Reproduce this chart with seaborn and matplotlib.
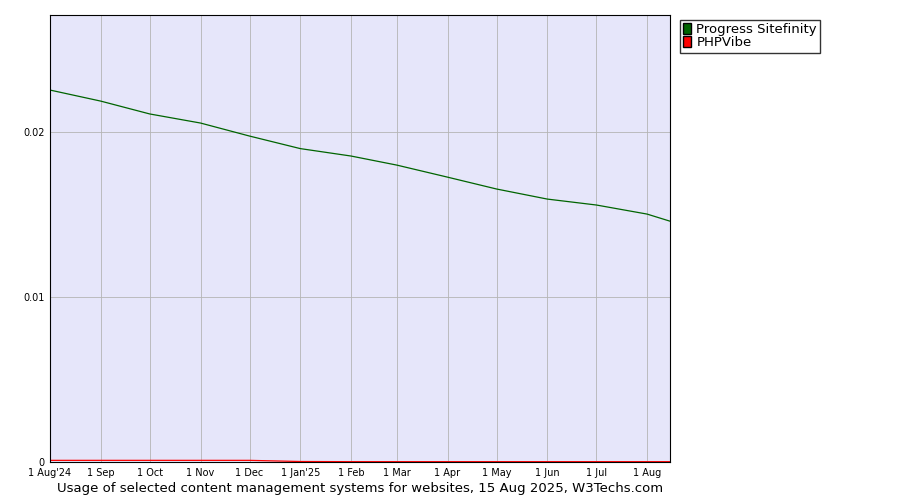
import pandas as pd
import matplotlib
matplotlib.use("Agg")
import matplotlib.pyplot as plt
from matplotlib.patches import Patch
import seaborn as sns

dates = ["2024-08-01", "2024-09-01", "2024-10-01", "2024-11-01", "2024-12-01",
         "2025-01-01", "2025-02-01", "2025-03-01", "2025-04-01", "2025-05-01",
         "2025-06-01", "2025-07-01", "2025-08-01", "2025-08-15"]
sitefinity = [0.02255, 0.02188, 0.0211, 0.02055, 0.01976, 0.0190, 0.01855,
              0.0180, 0.01727, 0.01655, 0.01594, 0.01558, 0.01503, 0.0146]
phpvibe = [0.0001, 0.0001, 0.0001, 0.0001, 0.0001, 0.00003, 0.00002,
           0.00002, 0.00002, 0.00002, 0.00002, 0.00002, 0.00002, 0.00002]
tick_labels = ["1 Aug'24", "1 Sep", "1 Oct", "1 Nov", "1 Dec", "1 Jan'25", "1 Feb",
               "1 Mar", "1 Apr", "1 May", "1 Jun", "1 Jul", "1 Aug"]

df = pd.DataFrame({"date": pd.to_datetime(dates),
                   "Progress Sitefinity": sitefinity, "PHPVibe": phpvibe})
long = df.melt(id_vars="date", var_name="cms", value_name="share")

sns.set_style("white")
plt.rcParams["font.family"] = ["DejaVu Sans"]
plt.rcParams["text.color"] = "black"
plt.rcParams["xtick.color"] = "black"
plt.rcParams["ytick.color"] = "black"
plt.rcParams["axes.labelcolor"] = "black"
fig = plt.figure(figsize=(9, 5), dpi=100)
ax = fig.add_axes([50 / 900, 38 / 500, 620 / 900, 447 / 500])
ax.set_facecolor("#e6e6fa")

sns.lineplot(data=long, x="date", y="share", hue="cms",
             palette={"Progress Sitefinity": "#006400", "PHPVibe": "#ff0000"},
             linewidth=0.9, legend=False, ax=ax)

ax.set_xlim(df["date"].iloc[0], df["date"].iloc[-1])
ax.set_ylim(0, 0.0271)
ax.set_xticks(df["date"].iloc[:-1])
ax.set_xticklabels(tick_labels, fontsize=7)
ax.set_yticks([0, 0.01, 0.02])
ax.set_yticklabels(["0", "0.01", "0.02"], fontsize=7)
ax.grid(True, color="#b4b4b4", linewidth=0.6)
ax.tick_params(length=3, pad=1)
ax.set_xlabel("Usage of selected content management systems for websites, 15 Aug 2025, W3Techs.com",
              fontsize=9.5, labelpad=3)
ax.set_ylabel("")
for s in ax.spines.values():
    s.set_color("black")
    s.set_linewidth(0.8)

handles = [Patch(facecolor="#006400", edgecolor="black", label="Progress Sitefinity"),
           Patch(facecolor="#ff0000", edgecolor="black", label="PHPVibe")]
fig.legend(handles=handles, loc="upper left", bbox_to_anchor=(680 / 900, 1 - 20 / 500),
           fontsize=9.5, frameon=True, fancybox=False, edgecolor="black",
           handlelength=0.6, handleheight=0.9, handletextpad=0.4,
           labelspacing=0.0, borderpad=0.25, borderaxespad=0)

fig.savefig("out.png", dpi=100)
